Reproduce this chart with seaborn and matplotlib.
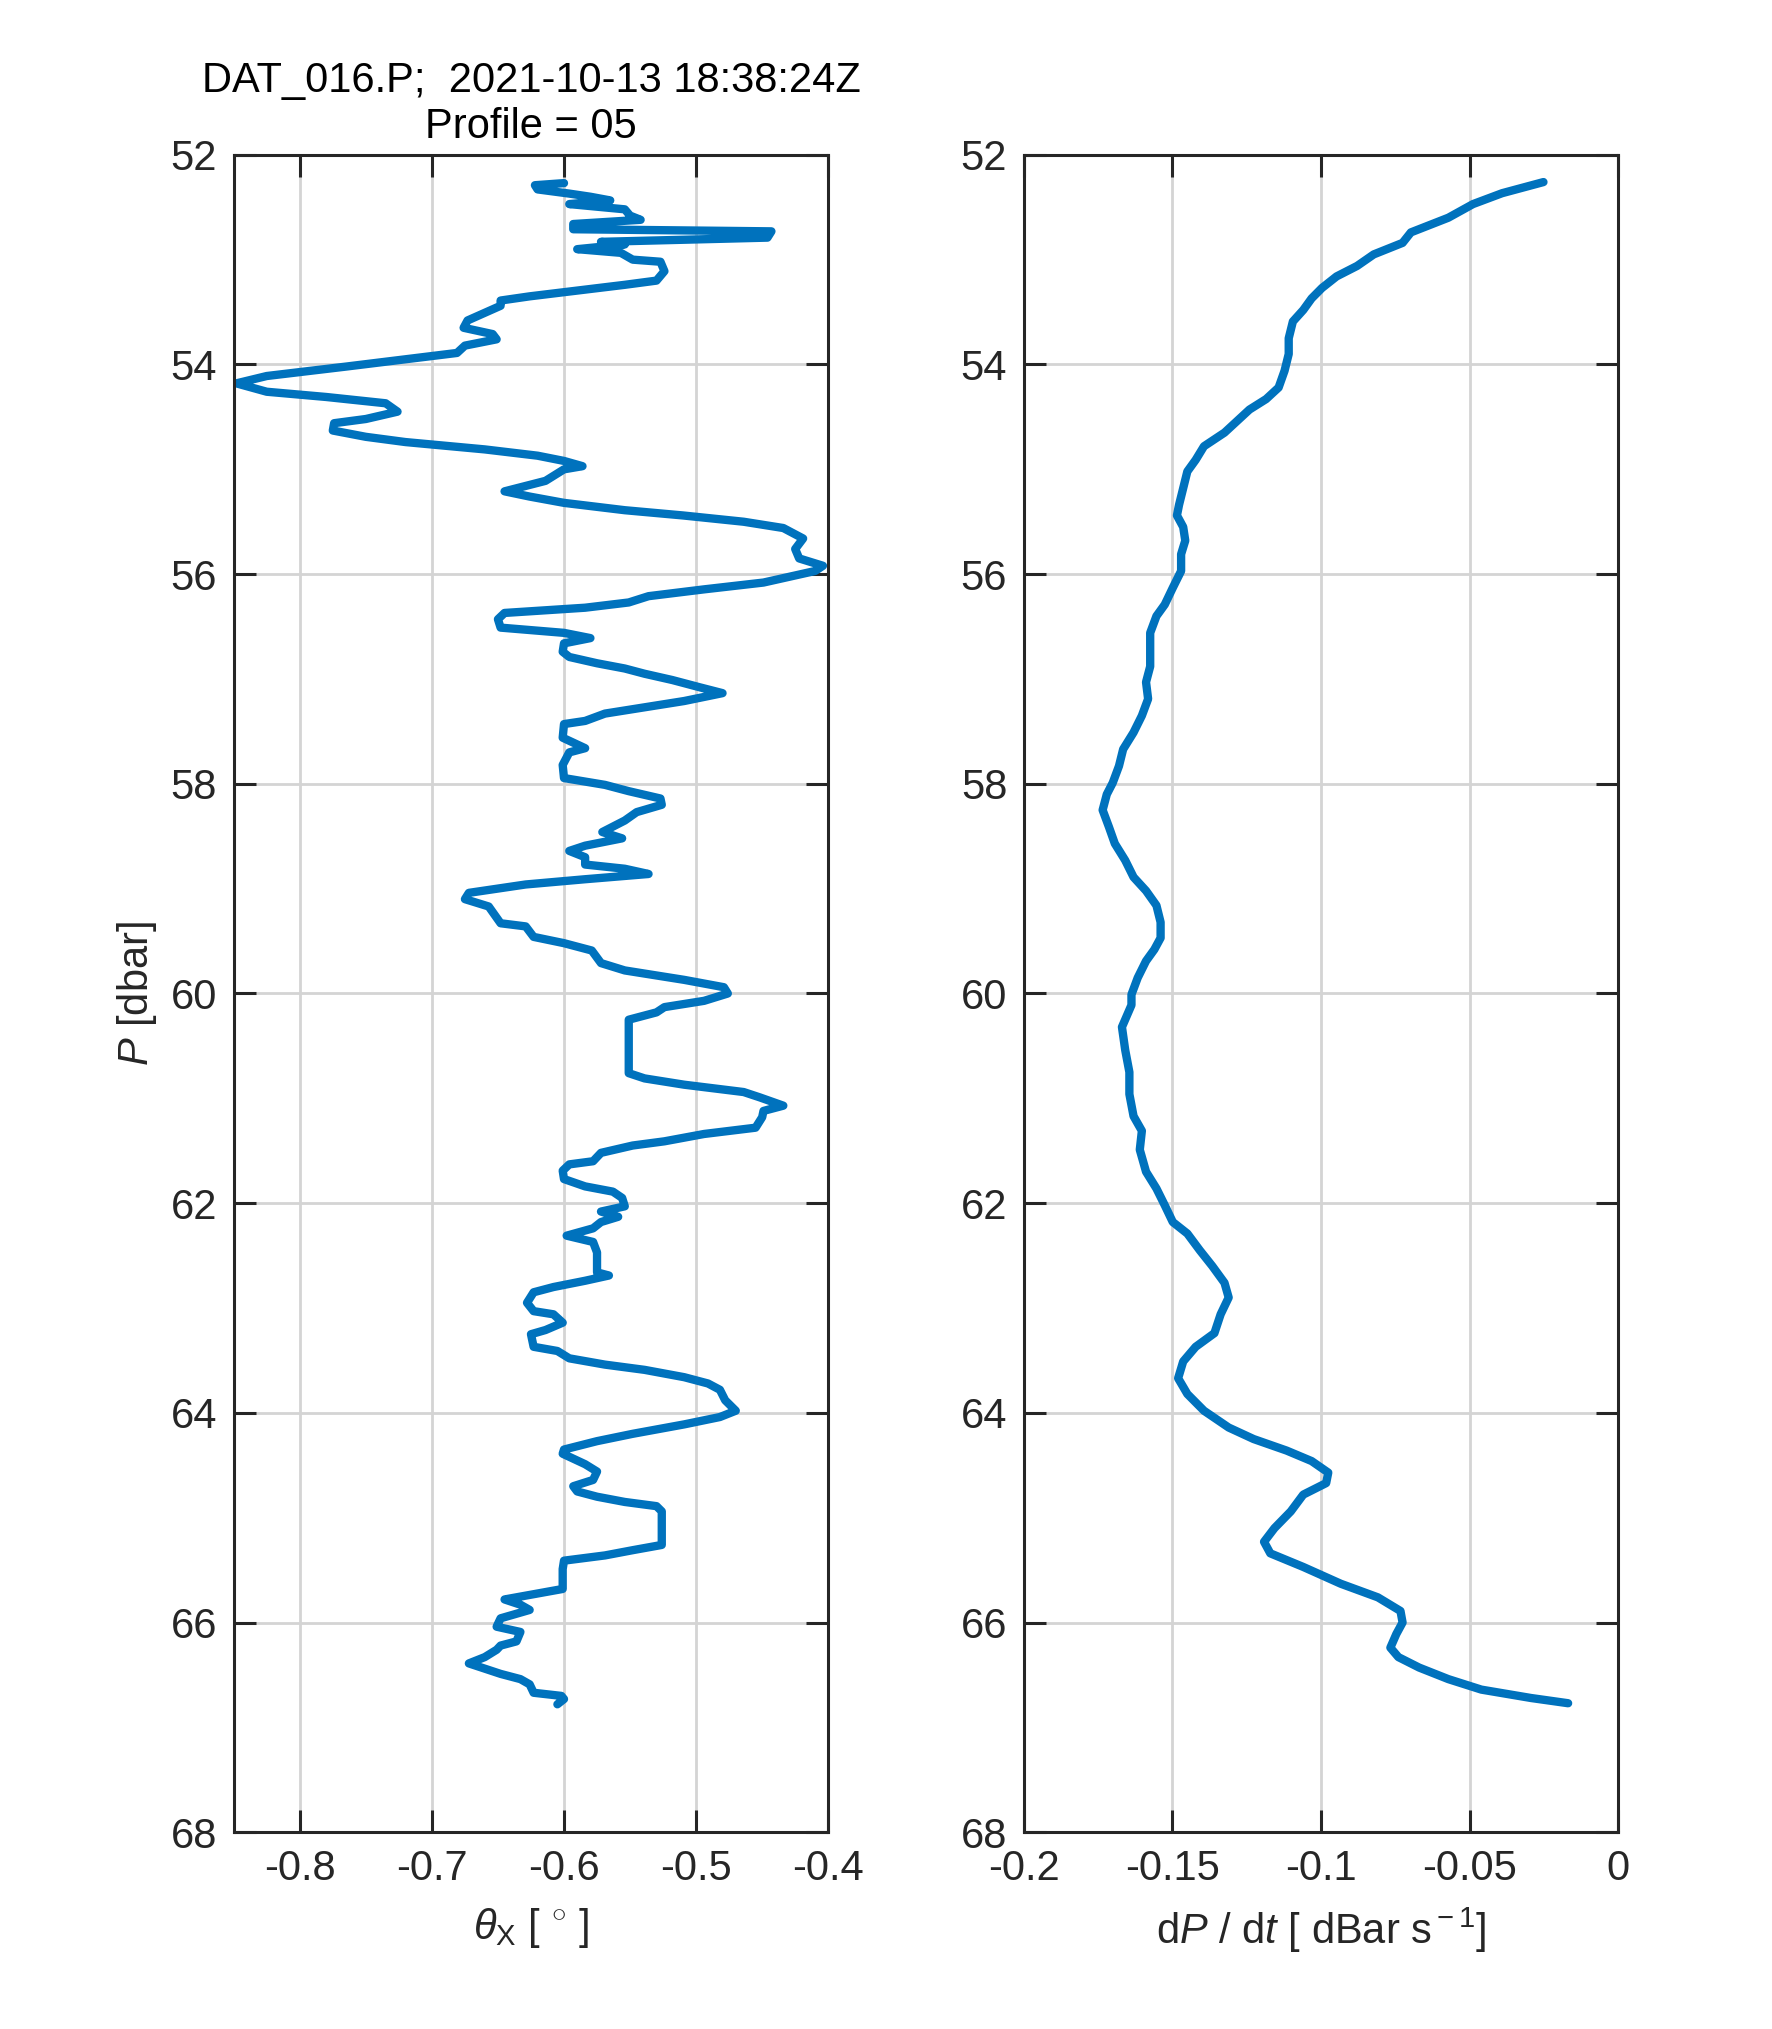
import numpy as np
import pandas as pd
import matplotlib
matplotlib.use("Agg")
import matplotlib.pyplot as plt
import seaborn as sns

# ---- Data: left panel (theta_X vs P) ----
p_theta = [52.27, 52.29, 52.33, 52.37, 52.40, 52.435, 52.47, 52.52, 52.58, 52.62,
           52.66, 52.71, 52.73, 52.79, 52.83, 52.855, 52.90, 52.935, 53.00, 53.02,
           53.11, 53.20, 53.24, 53.31, 53.35, 53.39, 53.44, 53.58, 53.65, 53.71,
           53.76, 53.82, 53.89, 53.95, 54.02, 54.11, 54.18, 54.26, 54.31, 54.37,
           54.45, 54.52, 54.56, 54.63, 54.69, 54.74, 54.81, 54.87, 54.92, 54.97,
           55.00, 55.11, 55.21, 55.26, 55.32, 55.39, 55.44, 55.50, 55.56, 55.66,
           55.76, 55.85, 55.92, 55.97,
           56.08, 56.145, 56.21, 56.27, 56.32, 56.37, 56.43, 56.51, 56.56, 56.61,
           56.66, 56.74, 56.79, 56.85, 56.90, 56.95, 57.01, 57.08, 57.135, 57.21,
           57.27, 57.33, 57.40, 57.43, 57.56, 57.66, 57.70, 57.82, 57.945, 58.01,
           58.07, 58.14, 58.20, 58.27, 58.35, 58.46, 58.52, 58.59, 58.64, 58.70,
           58.77, 58.81, 58.86, 58.91, 58.96, 59.04, 59.10, 59.17, 59.33, 59.36,
           59.46, 59.52, 59.59, 59.71, 59.78, 59.87, 59.94, 60.00, 60.07, 60.13,
           60.18, 60.25, 60.34, 60.76, 60.81, 60.87, 60.94, 60.99, 61.07, 61.12,
           61.18, 61.28, 61.34, 61.41, 61.45, 61.52, 61.60, 61.63, 61.69, 61.77,
           61.84, 61.89, 61.95, 62.03, 62.08, 62.13, 62.18, 62.24, 62.31, 62.37,
           62.47, 62.66, 62.69, 62.74, 62.80, 62.85, 62.95, 63.03, 63.06, 63.14,
           63.21, 63.25, 63.37, 63.41, 63.48, 63.54, 63.59, 63.66, 63.72, 63.78,
           63.88, 63.98, 64.04, 64.11, 64.20, 64.27, 64.35,
           64.39, 64.49, 64.56, 64.64, 64.70, 64.75, 64.80, 64.85, 64.89, 64.94,
           65.26, 65.31, 65.36, 65.41, 65.49, 65.68, 65.73, 65.78, 65.83, 65.88,
           65.96, 66.04, 66.09, 66.18, 66.22, 66.26, 66.33, 66.39, 66.44, 66.49,
           66.54, 66.59, 66.67, 66.70, 66.73, 66.78]
theta_x = [-0.600, -0.622, -0.620, -0.596, -0.580, -0.565, -0.596, -0.554, -0.550, -0.542,
           -0.593, -0.593, -0.443, -0.446, -0.572, -0.554, -0.590, -0.557, -0.548, -0.527,
           -0.524, -0.530, -0.554, -0.600, -0.626, -0.648, -0.648, -0.673, -0.676, -0.654,
           -0.651, -0.675, -0.681, -0.720, -0.765, -0.825, -0.848, -0.825, -0.780, -0.735,
           -0.726, -0.750, -0.774, -0.775, -0.750, -0.720, -0.660, -0.620, -0.600, -0.586,
           -0.600, -0.614, -0.645, -0.626, -0.600, -0.554, -0.510, -0.464, -0.434, -0.419,
           -0.425, -0.422, -0.404, -0.410,
           -0.449, -0.494, -0.536, -0.551, -0.584, -0.645, -0.650, -0.648, -0.600, -0.580,
           -0.600, -0.601, -0.596, -0.575, -0.554, -0.539, -0.518, -0.497, -0.480, -0.509,
           -0.539, -0.569, -0.584, -0.600, -0.601, -0.584, -0.596, -0.601, -0.600, -0.569,
           -0.551, -0.527, -0.526, -0.545, -0.554, -0.571, -0.556, -0.584, -0.596, -0.584,
           -0.584, -0.554, -0.536, -0.584, -0.629, -0.672, -0.675, -0.657, -0.648, -0.629,
           -0.623, -0.600, -0.579, -0.572, -0.554, -0.509, -0.479, -0.476, -0.494, -0.524,
           -0.530, -0.551, -0.551, -0.551, -0.539, -0.509, -0.464, -0.452, -0.434, -0.449,
           -0.450, -0.455, -0.494, -0.524, -0.548, -0.572, -0.578, -0.596, -0.601, -0.600,
           -0.584, -0.563, -0.556, -0.554, -0.572, -0.559, -0.572, -0.578, -0.598, -0.578,
           -0.575, -0.575, -0.566, -0.584, -0.608, -0.623, -0.628, -0.623, -0.608, -0.601,
           -0.614, -0.625, -0.623, -0.605, -0.596, -0.569, -0.539, -0.509, -0.491, -0.482,
           -0.478, -0.470, -0.482, -0.509, -0.548, -0.575, -0.600,
           -0.601, -0.584, -0.575, -0.578, -0.593, -0.590, -0.575, -0.554, -0.530, -0.526,
           -0.526, -0.548, -0.569, -0.600, -0.601, -0.601, -0.623, -0.645, -0.633, -0.626,
           -0.648, -0.651, -0.633, -0.636, -0.648, -0.651, -0.660, -0.672, -0.660, -0.648,
           -0.633, -0.626, -0.623, -0.602, -0.600, -0.605]

# ---- Data: right panel (dP/dt vs P) ----
p_speed = [52.26, 52.366, 52.47, 52.60, 52.74, 52.84, 52.95, 53.06, 53.16, 53.27,
           53.37, 53.48, 53.59, 53.75, 53.90, 54.06, 54.22, 54.33, 54.43, 54.54,
           54.65, 54.78, 54.91, 55.02, 55.18, 55.34, 55.44, 55.55, 55.68, 55.81,
           55.97, 56.13, 56.29, 56.40, 56.56, 56.72, 56.88, 57.03, 57.19, 57.35,
           57.51, 57.67, 57.83, 57.99, 58.10, 58.25, 58.41, 58.57, 58.73, 58.89,
           59.02, 59.16, 59.32, 59.47, 59.58, 59.69, 59.85, 60.01,
           60.11, 60.32, 60.54, 60.75, 60.96, 61.17, 61.31, 61.49, 61.70, 61.86,
           62.02, 62.18, 62.29, 62.45, 62.60, 62.76, 62.90, 63.06, 63.24, 63.37,
           63.51, 63.67, 63.82, 63.98, 64.14, 64.25, 64.36, 64.46, 64.57, 64.67,
           64.78, 64.94, 65.10, 65.23, 65.34, 65.47, 65.63, 65.76, 65.89, 66.00,
           66.11, 66.24, 66.33, 66.43, 66.54, 66.64, 66.72, 66.77]
dpdt = [-0.0252, -0.0391, -0.0489, -0.0572, -0.0698, -0.0726, -0.0823, -0.0879, -0.0948, -0.0997,
        -0.1032, -0.1060, -0.1095, -0.1109, -0.1109, -0.1123, -0.1143, -0.1185, -0.1241, -0.1283,
        -0.1325, -0.1394, -0.1422, -0.1450, -0.1464, -0.1478, -0.1485, -0.1464, -0.1457, -0.1471,
        -0.1471, -0.1499, -0.1526, -0.1554, -0.1575, -0.1575, -0.1575, -0.1589, -0.1582, -0.1603,
        -0.1631, -0.1666, -0.1680, -0.1701, -0.1721, -0.1735, -0.1714, -0.1694, -0.1659, -0.1631,
        -0.1589, -0.1554, -0.1540, -0.1540, -0.1561, -0.1589, -0.1617, -0.1638,
        -0.1638, -0.1670, -0.1659, -0.1645, -0.1645, -0.1631, -0.1603, -0.1610, -0.1589, -0.1554,
        -0.1526, -0.1499, -0.1450, -0.1408, -0.1366, -0.1325, -0.1311, -0.1338, -0.1359, -0.1422,
        -0.1464, -0.1481, -0.1450, -0.1394, -0.1311, -0.1227, -0.1116, -0.1032, -0.0976, -0.0983,
        -0.1060, -0.1102, -0.1157, -0.1192, -0.1171, -0.1060, -0.0934, -0.0809, -0.0733, -0.0726,
        -0.0747, -0.0767, -0.0740, -0.0670, -0.0572, -0.0461, -0.0294, -0.0169]

title_lines = ["DAT_016.P;  2021-10-13 18:38:24Z", "Profile = 05"]
p_ticks = [52, 54, 56, 58, 60, 62, 64, 66, 68]
theta_ticks = [-0.8, -0.7, -0.6, -0.5, -0.4]
theta_ticklabels = ["-0.8", "-0.7", "-0.6", "-0.5", "-0.4"]
speed_ticks = [-0.2, -0.15, -0.1, -0.05, 0]
speed_ticklabels = ["-0.2", "-0.15", "-0.1", "-0.05", "0"]

# ---- Style ----
sns.set_theme(style="white")
plt.rcParams['font.family'] = ['Liberation Sans', 'DejaVu Sans']
plt.rcParams['mathtext.fontset'] = 'custom'
plt.rcParams['mathtext.rm'] = 'Liberation Sans'
plt.rcParams['mathtext.it'] = 'Liberation Sans:italic'
plt.rcParams['mathtext.bf'] = 'Liberation Sans:bold'

line_color = "#0072BD"
tick_color = "#262626"
fs = 15

fig = plt.figure(figsize=(8.86, 10.145), dpi=200)
fig.patch.set_facecolor("white")
ax1 = fig.add_axes([0.1319, 0.097, 0.3355, 0.8267])
ax2 = fig.add_axes([0.5778, 0.097, 0.3355, 0.8267])

df1 = pd.DataFrame({"P": p_theta, "theta": theta_x})
df2 = pd.DataFrame({"P": p_speed, "dpdt": dpdt})

sns.lineplot(data=df1, x="theta", y="P", sort=False, estimator=None,
             color=line_color, linewidth=3.0, ax=ax1)
sns.lineplot(data=df2, x="dpdt", y="P", sort=False, estimator=None,
             color=line_color, linewidth=3.0, ax=ax2)

def style_axes(ax, xlim, xticks, xticklabels):
    ax.set_xlim(*xlim)
    ax.set_ylim(68, 52)
    ax.set_xticks(xticks)
    ax.set_xticklabels(xticklabels)
    ax.set_yticks(p_ticks)
    ax.set_yticklabels([str(t) for t in p_ticks])
    ax.grid(True, color="#d4d4d4", linewidth=1.0)
    ax.set_axisbelow(True)
    ax.tick_params(direction="in", length=8, width=1.1, color=tick_color,
                   top=True, right=True, bottom=True, left=True,
                   labelsize=fs, labelcolor=tick_color, pad=6)
    for s in ax.spines.values():
        s.set_visible(True)
        s.set_color(tick_color)
        s.set_linewidth(1.1)
    ax.set_facecolor("white")

style_axes(ax1, (-0.85, -0.4), theta_ticks, theta_ticklabels)
style_axes(ax2, (-0.2, 0.0), speed_ticks, speed_ticklabels)

ax1.set_xlabel(r"$\theta_{\rm X}$ [ $^{\circ}$ ]", fontsize=fs, color=tick_color, labelpad=6)
ax1.set_ylabel(r"$P$ [dbar]", fontsize=fs, color=tick_color, labelpad=4)
ax2.set_xlabel(r"d$P$ / d$t$ [ dBar s$^{\rm -1}$]", fontsize=fs, color=tick_color, labelpad=6)
ax2.set_ylabel("")
ax1.set_title("\n".join(title_lines), fontsize=fs, color="black", pad=6, linespacing=1.2)

fig.savefig("out.png", dpi=200, facecolor="white")
